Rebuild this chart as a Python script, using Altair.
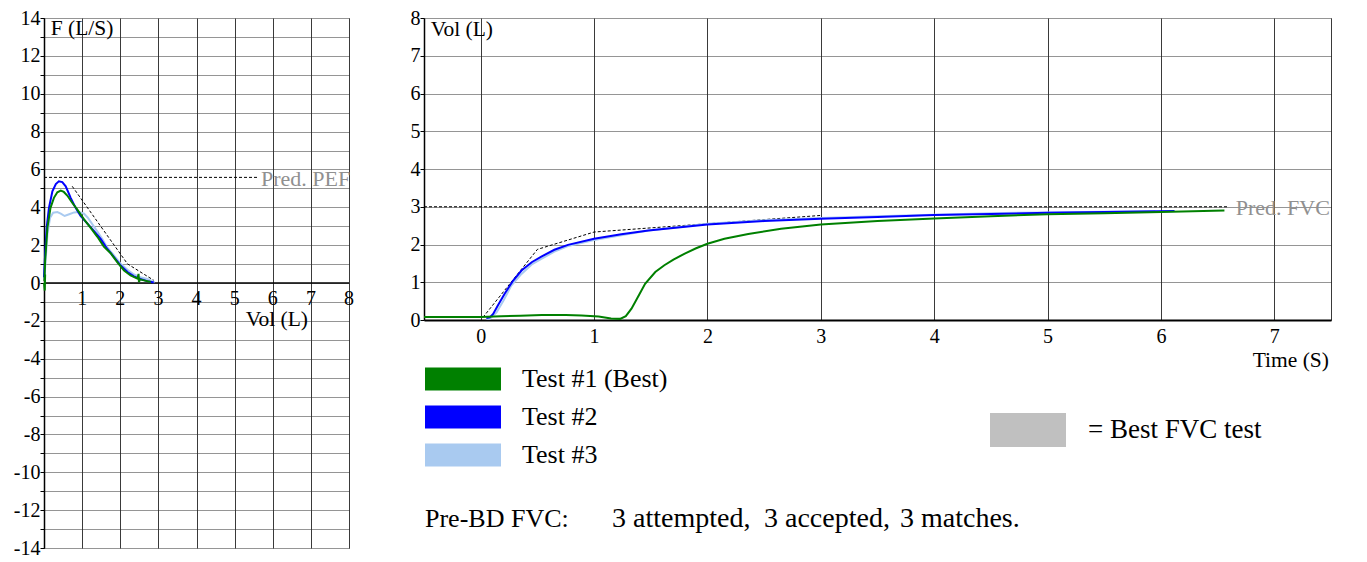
import altair as alt
import pandas as pd

FONT = "Liberation Serif, Times New Roman, Times, serif"
GREEN = "#008000"
BLUE = "#0000ff"
LIGHT = "#a9caf0"
GRAYTXT = "#909090"

# ---------------- Flow-volume loop (left) ----------------
t1_fv_vol = [0.0, 0.02, 0.03, 0.01, 0.03, 0.09, 0.17, 0.26, 0.35, 0.44, 0.52, 0.61, 0.74, 0.87,
             1.05, 1.22, 1.40, 1.57, 1.75, 1.92, 2.10, 2.27, 2.45, 2.48, 2.49, 2.52, 2.62, 2.80]
t1_fv_flow = [0.0, -0.4, 0.45, 0.1, 1.19, 2.93, 3.97, 4.50, 4.79, 4.88, 4.81, 4.62, 4.24, 3.89,
              3.36, 2.93, 2.44, 1.92, 1.57, 1.10, 0.66, 0.40, 0.23, 0.48, 0.05, 0.19, 0.14, 0.05]

t2_fv_vol = [0.0, 0.03, 0.07, 0.13, 0.22, 0.31, 0.39, 0.48, 0.57, 0.70, 0.83, 0.96, 1.14, 1.31,
             1.49, 1.66, 1.84, 2.01, 2.19, 2.36, 2.53, 2.71, 2.88]
t2_fv_flow = [0.3, 1.53, 2.93, 3.97, 4.85, 5.23, 5.37, 5.33, 5.11, 4.50, 3.97, 3.54, 3.14, 2.75,
              2.32, 1.80, 1.36, 0.92, 0.58, 0.35, 0.21, 0.10, 0.03]

t3_fv_vol = [0.0, 0.03, 0.09, 0.16, 0.24, 0.35, 0.44, 0.54, 0.66, 0.79, 0.92, 1.05, 1.15, 1.27,
             1.40, 1.53, 1.66, 1.84, 2.01, 2.19, 2.36, 2.53, 2.71, 2.84, 2.90]
t3_fv_flow = [0.2, 0.84, 2.58, 3.45, 3.71, 3.75, 3.66, 3.54, 3.63, 3.73, 3.75, 3.66, 3.45, 3.10,
              2.72, 2.32, 1.88, 1.45, 1.01, 0.70, 0.45, 0.31, 0.21, 0.10, 0.03]

pred_fv_vol = [0.74, 2.19, 2.88]
pred_fv_flow = [5.11, 1.01, 0.14]
pred_pef = 5.58
pred_pef_end = 5.6

fv_x_ticks = [1, 2, 3, 4, 5, 6, 7, 8]

# ---------------- Volume-time (right) ----------------
t1_vt_time = [-0.5, 0.0, 0.18, 0.35, 0.54, 0.75, 0.89, 1.04, 1.15, 1.23, 1.28, 1.33, 1.40, 1.45,
              1.54, 1.62, 1.70, 1.80, 1.90, 2.0, 2.15, 2.36, 2.65, 3.0, 3.5, 4.0, 4.5, 5.0, 5.5,
              6.0, 6.56]
t1_vt_vol = [0.08, 0.08, 0.10, 0.11, 0.13, 0.13, 0.12, 0.09, 0.04, 0.03, 0.10, 0.30, 0.68, 0.96,
             1.27, 1.45, 1.60, 1.76, 1.90, 2.02, 2.15, 2.28, 2.42, 2.53, 2.62, 2.69, 2.75, 2.80,
             2.83, 2.86, 2.90]

t2_vt_time = [0.05, 0.08, 0.11, 0.15, 0.21, 0.285, 0.36, 0.45, 0.535, 0.65, 0.77, 1.0, 1.24, 1.48,
              2.0, 2.5, 3.0, 3.5, 4.0, 4.5, 5.0, 5.5, 6.12]
t2_vt_vol = [0.05, 0.07, 0.16, 0.38, 0.69, 1.04, 1.31, 1.53, 1.68, 1.86, 1.99, 2.15, 2.27, 2.37,
             2.53, 2.62, 2.68, 2.73, 2.78, 2.81, 2.84, 2.86, 2.89]

t3_vt_time = [0.05, 0.08, 0.14, 0.20, 0.27, 0.36, 0.45, 0.535, 0.65, 0.77, 1.0, 1.48, 2.0, 2.5,
              3.0, 3.5, 4.0, 4.5, 5.0, 5.5, 5.95]
t3_vt_vol = [0.03, 0.03, 0.20, 0.51, 0.91, 1.22, 1.47, 1.62, 1.81, 1.96, 2.12, 2.37, 2.55, 2.64,
             2.70, 2.75, 2.79, 2.83, 2.85, 2.87, 2.88]

pred_vt_time = [0.02, 0.5, 1.0, 3.0]
pred_vt_vol = [0.07, 1.87, 2.33, 2.77]
pred_fvc = 3.0
pred_fvc_end = 6.6

test_names = ["Test #1 (Best)", "Test #2", "Test #3"]
test_colors = [GREEN, BLUE, LIGHT]
best_label = ["= Best FVC test"]
summary_head = "Pre-BD FVC:"
summary_parts = ["3 attempted,", "3 accepted,", "3 matches."]

# ---------------- helpers ----------------
def df_xy(xs, ys):
    return pd.DataFrame({"x": xs, "y": ys, "i": list(range(len(xs)))})


def txt(text, x, y, size=21.5, color="black", align="left"):
    return alt.Chart(pd.DataFrame({"t": [text]})).mark_text(
        font=FONT, fontSize=size, color=color, align=align, baseline="alphabetic"
    ).encode(x=alt.value(x), y=alt.value(y), text="t:N")


VGRID = "#3a3a3a"
HGRID = "#2a2a2a"

# ---------------- left chart ----------------
FX = alt.X("x:Q", scale=alt.Scale(domain=[0, 8], nice=False, zero=False),
           axis=alt.Axis(values=list(range(0, 9)), grid=True, labels=False, ticks=False,
                         domain=False, title=None, gridColor=VGRID, gridWidth=1))
FY = alt.Y("y:Q", scale=alt.Scale(domain=[-14, 14], nice=False, zero=False),
           axis=alt.Axis(values=list(range(-14, 15)),
                         labelExpr="datum.value % 2 == 0 ? '' + datum.value : ''",
                         grid=True, gridDash=[1, 1], gridColor=HGRID, gridWidth=1.2,
                         tickSize=4, tickColor="black", domainColor="black", domainWidth=1.5,
                         labelPadding=0, labelFontSize=20, labelFont=FONT, labelColor="black",
                         title=None))

def fv_line(xs, ys, color, width=2, dash=None):
    kw = dict(color=color, strokeWidth=width)
    if dash:
        kw["strokeDash"] = dash
    return alt.Chart(df_xy(xs, ys)).mark_line(**kw).encode(x=FX, y=FY, order="i:Q")

fv_zero = alt.Chart(pd.DataFrame({"x": [0], "x2": [8], "y": [0]})).mark_rule(
    color="black", strokeWidth=1.5).encode(x=FX, x2="x2:Q", y=FY)
fv_pef = alt.Chart(pd.DataFrame({"x": [0], "x2": [pred_pef_end], "y": [pred_pef]})).mark_rule(
    color="black", strokeWidth=1, strokeDash=[3, 2]).encode(x=FX, x2="x2:Q", y=FY)
fv_pef_lbl = alt.Chart(pd.DataFrame({"x": [pred_pef_end + 0.09], "y": [pred_pef], "t": ["Pred. PEF"]})).mark_text(
    font=FONT, fontSize=22, color=GRAYTXT, align="left", baseline="middle", dy=1.5
).encode(x=FX, y=FY, text="t:N")
fv_xlabels = alt.Chart(pd.DataFrame({"x": fv_x_ticks, "y": [0] * len(fv_x_ticks),
                                     "t": [str(v) for v in fv_x_ticks]})).mark_text(
    font=FONT, fontSize=20, color="black", align="center", baseline="alphabetic", dy=22
).encode(x=FX, y=FY, text="t:N")

left = alt.layer(
    fv_zero,
    fv_pef,
    fv_line(pred_fv_vol, pred_fv_flow, "black", 1, [3, 2]),
    fv_line(t3_fv_vol, t3_fv_flow, LIGHT),
    fv_line(t2_fv_vol, t2_fv_flow, BLUE),
    fv_line(t1_fv_vol, t1_fv_flow, GREEN),
    fv_pef_lbl,
    fv_xlabels,
    txt("F (L/S)", 6.7, 17),
    txt("Vol (L)", 201.7, 307.6),
).properties(width=305, height=530)

# ---------------- right chart ----------------
VX = alt.X("x:Q", scale=alt.Scale(domain=[-0.5, 7.5], nice=False, zero=False),
           axis=alt.Axis(values=[0, 1, 2, 3, 4, 5, 6, 7, 7.5],
                         labelExpr="datum.value == 7.5 ? '' : datum.label",
                         grid=True, gridColor=VGRID, gridWidth=1, ticks=False, tickSize=0,
                         domainColor="black", domainWidth=2, labelPadding=6,
                         labelFontSize=20, labelFont=FONT, labelColor="black", title=None))
VY = alt.Y("y:Q", scale=alt.Scale(domain=[0, 8], nice=False, zero=False),
           axis=alt.Axis(values=list(range(0, 9)), grid=True, gridDash=[1, 1],
                         gridColor=HGRID, gridWidth=1.2, tickSize=4, tickColor="black",
                         domainColor="black", domainWidth=1.5, labelPadding=0,
                         labelFontSize=20, labelFont=FONT, labelColor="black", title=None))

def vt_line(xs, ys, color, width=2, dash=None):
    kw = dict(color=color, strokeWidth=width)
    if dash:
        kw["strokeDash"] = dash
    return alt.Chart(df_xy(xs, ys)).mark_line(**kw).encode(x=VX, y=VY, order="i:Q")

vt_fvc = alt.Chart(pd.DataFrame({"x": [-0.5], "x2": [pred_fvc_end], "y": [pred_fvc]})).mark_rule(
    color="black", strokeWidth=1, strokeDash=[3, 2]).encode(x=VX, x2="x2:Q", y=VY)
vt_fvc_lbl = alt.Chart(pd.DataFrame({"x": [pred_fvc_end + 0.06], "y": [pred_fvc], "t": ["Pred. FVC"]})).mark_text(
    font=FONT, fontSize=22, color=GRAYTXT, align="left", baseline="middle", dy=1.5
).encode(x=VX, y=VY, text="t:N")

legend_tests = alt.Chart(pd.DataFrame({"x": [-5.0] * 3, "y": [-5.0] * 3, "k": test_names})).mark_square(
    opacity=1, clip=True
).encode(
    x=VX, y=VY,
    color=alt.Color("k:N", scale=alt.Scale(domain=test_names, range=test_colors),
                    legend=alt.Legend(orient="none", legendX=1, legendY=342, title=None,
                                      symbolType="M-1.652,-0.5H1.652V0.5H-1.652Z",
                                      symbolSize=2116, symbolStrokeWidth=0, symbolOffset=15,
                                      labelOffset=36, clipHeight=38, rowPadding=0, padding=0,
                                      labelFontSize=26, labelFont=FONT, labelColor="black",
                                      labelLimit=500)),
)
legend_best = alt.Chart(pd.DataFrame({"x": [-5.0], "y": [-5.0], "s": best_label})).mark_point(
    filled=True, opacity=1, clip=True, color="#c0c0c0"
).encode(
    x=VX, y=VY,
    shape=alt.Shape("s:N", scale=alt.Scale(domain=best_label,
                                           range=["M-1.118,-0.5H1.118V0.5H-1.118Z"]),
                    legend=alt.Legend(orient="none", legendX=566, legendY=395, title=None,
                                      symbolSize=4624, symbolStrokeWidth=0, symbolOffset=4,
                                      symbolFillColor="#c0c0c0",
                                      labelOffset=26, clipHeight=34, padding=0,
                                      labelFontSize=27, labelFont=FONT, labelColor="black",
                                      labelLimit=500)),
)

right = alt.layer(
    vt_fvc,
    vt_line(pred_vt_time, pred_vt_vol, "black", 1, [3, 2]),
    vt_line(t3_vt_time, t3_vt_vol, LIGHT),
    vt_line(t2_vt_time, t2_vt_vol, BLUE),
    vt_line(t1_vt_time, t1_vt_vol, GREEN),
    vt_fvc_lbl,
    legend_tests,
    legend_best,
    txt("Vol (L)", 6.7, 18),
    txt("Time (S)", 905, 349, align="right"),
    txt(summary_head, 1, 508.7, size=26),
    txt(summary_parts[0], 188, 508.7, size=28),
    txt(summary_parts[1], 340, 508.7, size=28),
    txt(summary_parts[2], 476, 508.7, size=28),
).properties(width=907, height=302)

chart = alt.hconcat(left, right, spacing=75, bounds="flush").resolve_legend(
    color="independent", shape="independent"
).properties(
    padding={"left": 5, "top": 0, "right": 2, "bottom": 0}
).configure(font=FONT).configure_view(stroke=None)

chart.save("out.html", embed_options={"renderer": "svg", "actions": False})
